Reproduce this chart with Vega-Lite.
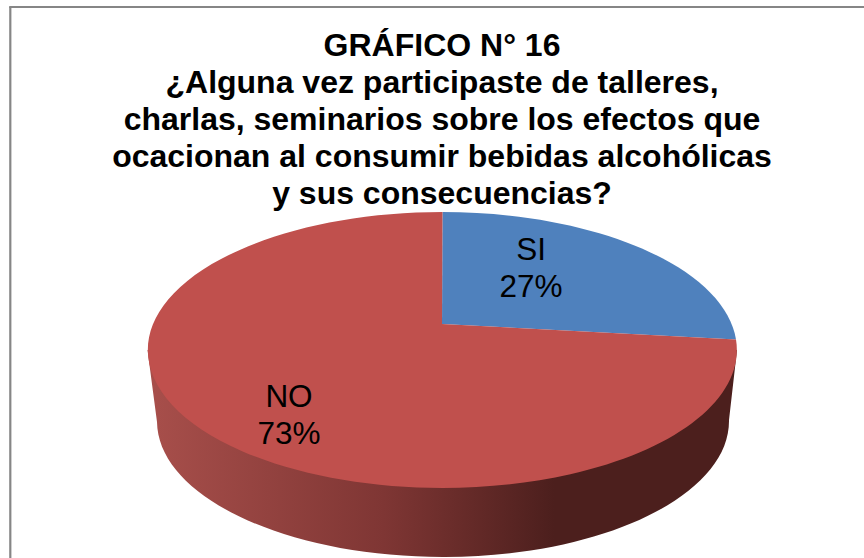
{
"$schema":"https://vega.github.io/schema/vega-lite/v6.json",
"width":864,"height":558,"padding":0,"autosize":{"type":"none"},
"background":"white",
"view":{"stroke":null},
"title":{"text":["GRÁFICO N° 16","¿Alguna vez participaste de talleres,","charlas, seminarios sobre los efectos que","ocacionan al consumir bebidas alcohólicas","y sus consecuencias?"],"font":"Liberation Sans","fontSize":32,"fontWeight":"bold","color":"#000000","lineHeight":37,"anchor":"middle","baseline":"alphabetic","offset":0,"dy":236,"dx":10},
"data":{"values":[{"respuesta":"SI","porcentaje":27},{"respuesta":"NO","porcentaje":73}]},
"transform":[{"calculate":"[datum.respuesta, datum.porcentaje + '%']","as":"etiqueta"}],
"encoding":{
"x":{"datum":0,"type":"quantitative","axis":null,"scale":{"domain":[-442,422]}},
"y":{"datum":0,"type":"quantitative","axis":null,"scale":{"domain":[-324,234],"reverse":true}}
},
"layer":[
{"data":{"values":[{"marco":"borde"}]},"mark":{"type":"rule","color":"#868686","strokeWidth":2.2},"encoding":{"x":{"datum":-431.7,"type":"quantitative","axis":null,"scale":{"domain":[-442,422]}},"y":{"datum":-317,"type":"quantitative","axis":null,"scale":{"domain":[-324,234],"reverse":true}},"y2":{"datum":234}}},
{"data":{"values":[{"marco":"borde"}]},"mark":{"type":"rule","color":"#868686","strokeWidth":2.2},"encoding":{"y":{"datum":-317,"type":"quantitative","axis":null,"scale":{"domain":[-324,234],"reverse":true}},"x":{"datum":-432.8,"type":"quantitative","axis":null,"scale":{"domain":[-442,422]}},"x2":{"datum":422}}},
{"transform":[{"filter":"datum.respuesta === 'NO'"}],"mark":{"type":"point","filled":true,"opacity":1,"size":4,"shape":"M-294.5 26L-285 98A286 136 0 0 0 287 96L295 26Z","fill":{"gradient":"linear","x1":0,"y1":0,"x2":1,"y2":0,"stops":[{"offset":0,"color":"#a84f4b"},{"offset":0.4,"color":"#7f3634"},{"offset":0.69,"color":"#4c1f1d"},{"offset":1,"color":"#4c1f1d"}]}}},
{"mark":{"type":"point","filled":true,"opacity":1,"size":4},"encoding":{
"shape":{"field":"respuesta","type":"nominal","legend":null,"scale":{"domain":["SI","NO"],"range":["M0 0L0.5 -112A294.5 138 0 0 1 294 15.5Z","M0 0L294 15.5A294.5 138 0 1 1 0.5 -112Z"]}},
"color":{"field":"respuesta","type":"nominal","legend":null,"scale":{"domain":["SI","NO"],"range":["#4f81bd","#c0504d"]}}}},
{"transform":[{"filter":"datum.respuesta === 'SI'"}],"mark":{"type":"text","font":"Liberation Sans","fontSize":31.5,"lineHeight":37,"align":"center","baseline":"alphabetic","color":"#000000"},"encoding":{"text":{"field":"etiqueta"},"x":{"datum":89,"type":"quantitative","axis":null,"scale":{"domain":[-442,422]}},"y":{"datum":-64,"type":"quantitative","axis":null,"scale":{"domain":[-324,234],"reverse":true}}}},
{"transform":[{"filter":"datum.respuesta === 'NO'"}],"mark":{"type":"text","font":"Liberation Sans","fontSize":31.5,"lineHeight":37,"align":"center","baseline":"alphabetic","color":"#000000"},"encoding":{"text":{"field":"etiqueta"},"x":{"datum":-153,"type":"quantitative","axis":null,"scale":{"domain":[-442,422]}},"y":{"datum":83,"type":"quantitative","axis":null,"scale":{"domain":[-324,234],"reverse":true}}}}
]
}
